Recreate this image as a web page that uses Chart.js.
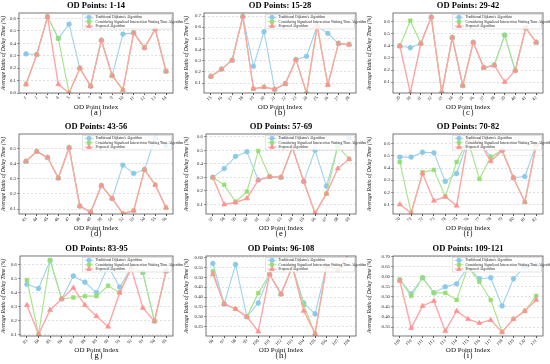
<!DOCTYPE html>
<html>
<head>
<meta charset="utf-8">
<script src="https://cdn.jsdelivr.net/npm/chart.js@4.4.0/dist/chart.umd.min.js"></script>
<style>
  body { margin: 0; background: #fff; }
  #wrap { position: relative; width: 550px; height: 364px; overflow: hidden; }
  .cell { position: absolute; }
</style>
</head>
<body>
<div id="wrap"></div>
<script>
// data, one entry per sub-panel (a) .. (i)
var panelTitles = ['OD Points: 1-14', 'OD Points: 15-28', 'OD Points: 29-42', 'OD Points: 43-56', 'OD Points: 57-69',
  'OD Points: 70-82', 'OD Points: 83-95', 'OD Points: 96-108', 'OD Points: 109-121'];
var captions = ['（a）', '（b）', '（c）', '（d）', '（e）', '（f）', '（g）', '（h）', '（i）'];
var firstIndex = [1, 15, 29, 43, 57, 70, 83, 96, 109];
var seriesNames = ["Traditional Dijkstra's Algorithm", 'Considering Signalized Intersection Waiting Time Algorithm', 'Proposed Algorithm'];

var traditional = [
  [0.315, 0.31, 0.615, 0.44, 0.555, 0.2, 0.055, 0.425, 0.14, 0.475, 0.485, 0.365, 0.515, 0.175],
  [0.16, 0.225, 0.305, 0.695, 0.25, 0.56, 0.045, 0.095, 0.31, 0.34, 0.61, 0.545, 0.455, 0.445],
  [0.40, 0.385, 0.42, 0.64, 0.01, 0.47, 0.07, 0.43, 0.22, 0.24, 0.49, 0.195, 0.55, 0.43],
  [0.415, 0.48, 0.44, 0.305, 0.505, 0.12, 0.08, 0.255, 0.17, 0.39, 0.335, 0.36, 0.57, 0.52],
  [0.30, 0.365, 0.455, 0.49, 0.28, 0.305, 0.30, 0.52, 0.27, 0.50, 0.235, 0.53, 0.59],
  [0.49, 0.49, 0.53, 0.525, 0.29, 0.355, 0.63, 0.62, 0.49, 0.545, 0.32, 0.33, 0.59],
  [0.46, 0.43, 0.63, 0.355, 0.52, 0.475, 0.40, 0.59, 0.44, 0.58, 0.545, 0.195, 0.555],
  [0.57, 0.365, 0.565, 0.30, 0.37, 0.515, 0.415, 0.555, 0.37, 0.315, 0.555, 0.54, 0.62],
  [0.585, 0.515, 0.595, 0.52, 0.55, 0.565, 0.65, 0.59, 0.595, 0.455, 0.59, 0.65, 0.66]
];
var signalized = [
  [0.07, 0.31, 0.615, 0.44, 0.0, 0.2, 0.055, 0.425, 0.14, 0.025, 0.485, 0.365, 0.515, 0.175],
  [0.16, 0.225, 0.305, 0.695, 0.05, 0.065, 0.045, 0.095, 0.31, 0.01, 0.61, 0.085, 0.455, 0.445],
  [0.40, 0.61, 0.42, 0.64, 0.01, 0.47, 0.07, 0.43, 0.22, 0.24, 0.49, 0.195, 0.55, 0.43],
  [0.415, 0.48, 0.44, 0.305, 0.505, 0.12, 0.08, 0.255, 0.17, 0.07, 0.09, 0.36, 0.26, 0.11],
  [0.30, 0.245, 0.12, 0.195, 0.495, 0.305, 0.30, 0.52, 0.27, 0.035, 0.18, 0.53, 0.435],
  [0.45, 0.03, 0.365, 0.385, 0.165, 0.45, 0.63, 0.31, 0.49, 0.545, 0.32, 0.12, 0.59],
  [0.49, 0.10, 0.635, 0.355, 0.365, 0.375, 0.375, 0.45, 0.40, 0.58, 0.545, 0.195, 0.555],
  [0.53, 0.365, 0.34, 0.30, 0.42, 0.515, 0.415, 0.555, 0.36, 0.215, 0.555, 0.54, 0.62],
  [0.585, 0.505, 0.595, 0.52, 0.52, 0.485, 0.65, 0.575, 0.485, 0.325, 0.39, 0.43, 0.505]
];
var proposed = [
  [0.07, 0.31, 0.615, 0.07, 0.0, 0.2, 0.055, 0.425, 0.14, 0.025, 0.485, 0.365, 0.515, 0.175],
  [0.16, 0.225, 0.305, 0.695, 0.05, 0.065, 0.045, 0.095, 0.31, 0.01, 0.61, 0.085, 0.455, 0.445],
  [0.40, 0.01, 0.42, 0.64, 0.01, 0.47, 0.07, 0.43, 0.22, 0.24, 0.10, 0.195, 0.55, 0.43],
  [0.415, 0.48, 0.44, 0.305, 0.505, 0.12, 0.08, 0.255, 0.17, 0.07, 0.09, 0.36, 0.26, 0.11],
  [0.30, 0.10, 0.115, 0.145, 0.28, 0.305, 0.30, 0.52, 0.27, 0.035, 0.18, 0.365, 0.435],
  [0.10, 0.03, 0.355, 0.13, 0.165, 0.09, 0.63, 0.62, 0.455, 0.545, 0.32, 0.12, 0.59],
  [0.31, 0.10, 0.275, 0.355, 0.435, 0.31, 0.23, 0.155, 0.40, 0.575, 0.29, 0.195, 0.555],
  [0.515, 0.365, 0.34, 0.30, 0.225, 0.515, 0.415, 0.555, 0.33, 0.215, 0.555, 0.54, 0.62],
  [0.58, 0.345, 0.455, 0.48, 0.33, 0.43, 0.39, 0.37, 0.385, 0.325, 0.39, 0.43, 0.485]
];
var yMins = [0, 0.012, 0.009, 0.068, 0.03, 0.022, 0.088, 0.203, 0.306];
var yMaxs = [0.645, 0.727, 0.674, 0.595, 0.62, 0.68, 0.664, 0.608, 0.703];
var yTicks = [
  [0.0, 0.1, 0.2, 0.3, 0.4, 0.5, 0.6],
  [0.1, 0.2, 0.3, 0.4, 0.5, 0.6, 0.7],
  [0.1, 0.2, 0.3, 0.4, 0.5, 0.6],
  [0.1, 0.2, 0.3, 0.4, 0.5],
  [0.1, 0.2, 0.3, 0.4, 0.5, 0.6],
  [0.1, 0.2, 0.3, 0.4, 0.5, 0.6],
  [0.1, 0.2, 0.3, 0.4, 0.5, 0.6],
  [0.25, 0.30, 0.35, 0.40, 0.45, 0.50, 0.55, 0.60],
  [0.35, 0.40, 0.45, 0.50, 0.55, 0.60, 0.65, 0.70]
];
var yDecimals = [1, 1, 1, 1, 1, 1, 1, 2, 2];

// look
var lineColors = ['rgb(158,210,236)', 'rgb(170,228,140)', 'rgb(255,165,165)'];
var fillColors = ['rgb(140,200,232)', 'rgb(150,222,115)', 'rgb(255,145,145)'];
var lineWidths = [1.1, 1.2, 1.4];
var styles = ['circle', 'rect', 'triangle'];
var radii = [2.4, 2.6, 2.9];
var serif = "'Liberation Serif', 'Times New Roman', serif";

// panel placement: canvas box and plot box inside it
var cellX = [0, 183, 366], cellY = [0, 121, 243];
var cellW = [183, 183, 184], cellH = [121, 122, 121];
var plotLeft = [19, 21, 27, 19, 23, 27, 20, 23, 27];
var plotRight = [173, 173, 177];

var panelDecor = {
  id: 'panelDecor',
  afterDatasetsDraw: function(chart, args, opts) {
    var ctx = chart.ctx, a = chart.chartArea;
    // legend box inside the plot, top right
    var w = 89, h = 14.5, x0 = a.right - w - 1.5, y0 = a.top + 1.5;
    ctx.save();
    ctx.fillStyle = 'rgba(255,255,255,0.82)';
    ctx.strokeStyle = '#cfcfcf';
    ctx.lineWidth = 0.6;
    ctx.fillRect(x0, y0, w, h);
    ctx.strokeRect(x0, y0, w, h);
    ctx.font = '3.6px ' + serif;
    ctx.textBaseline = 'middle';
    for (var k = 0; k < 3; k++) {
      var yy = y0 + 2.8 + k * 4.4;
      ctx.strokeStyle = lineColors[k];
      ctx.lineWidth = 0.9;
      ctx.beginPath();
      ctx.moveTo(x0 + 2, yy);
      ctx.lineTo(x0 + 11, yy);
      ctx.stroke();
      ctx.fillStyle = fillColors[k];
      ctx.strokeStyle = fillColors[k];
      Chart.helpers.drawPoint(ctx, { pointStyle: styles[k], radius: radii[k] * 0.9, rotation: 0, borderWidth: 0.6 }, x0 + 6.5, yy);
      ctx.fillStyle = '#222';
      ctx.fillText(seriesNames[k], x0 + 13, yy + 0.2);
    }
    // frame
    ctx.strokeStyle = '#555';
    ctx.lineWidth = 0.8;
    ctx.strokeRect(a.left, a.top, a.right - a.left, a.bottom - a.top);
    ctx.restore();
  },
  afterDraw: function(chart, args, opts) {
    var ctx = chart.ctx, a = chart.chartArea;
    var cx = (a.left + a.right) / 2;
    ctx.save();
    ctx.fillStyle = '#000';
    ctx.textAlign = 'center';
    ctx.textBaseline = 'middle';
    ctx.font = 'bold 8.5px ' + serif;
    ctx.fillText(opts.title, cx, 6);
    ctx.font = '8.5px ' + serif;
    ctx.fillText(opts.caption, cx, a.bottom + 20);
    ctx.restore();
  }
};

function makePanel(p) {
  var row = Math.floor(p / 3), col = p % 3;
  var W = cellW[col], H = cellH[row];
  var box = document.createElement('div');
  box.className = 'cell';
  box.style.left = cellX[col] + 'px';
  box.style.top = cellY[row] + 'px';
  box.style.width = W + 'px';
  box.style.height = H + 'px';
  var cv = document.createElement('canvas');
  box.appendChild(cv);
  document.getElementById('wrap').appendChild(box);

  var n = traditional[p].length;
  var idx = [];
  for (var i = 0; i < n; i++) idx.push(firstIndex[p] + i);
  var series = [traditional[p], signalized[p], proposed[p]];
  var datasets = series.map(function(vals, k) {
    return {
      label: seriesNames[k],
      data: idx.map(function(x, i) { return { x: x, y: vals[i] }; }),
      borderColor: lineColors[k],
      backgroundColor: fillColors[k],
      pointBorderColor: fillColors[k],
      borderWidth: lineWidths[k],
      pointStyle: styles[k],
      pointRadius: radii[k],
      pointBorderWidth: 0.6,
      order: 3 - k,
      tension: 0
    };
  });
  var span = idx[n - 1] - idx[0];
  var plotH = 80;
  new Chart(cv, {
    type: 'line',
    data: { datasets: datasets },
    options: {
      responsive: true,
      maintainAspectRatio: false,
      animation: false,
      events: [],
      layout: { padding: { left: 0, right: W - plotRight[col], top: 13, bottom: H - 13 - plotH - 18 } },
      plugins: {
        legend: { display: false },
        tooltip: { enabled: false },
        panelDecor: { title: panelTitles[p], caption: captions[p] }
      },
      scales: {
        x: {
          type: 'linear',
          min: idx[0] - span * 0.05,
          max: idx[n - 1] + span * 0.05,
          afterBuildTicks: function(s) { s.ticks = idx.map(function(v) { return { value: v }; }); },
          afterFit: function(s) { s.height = 18; },
          grid: { display: true, drawOnChartArea: false, tickLength: 2, color: '#555' },
          border: { display: false },
          ticks: {
            minRotation: 45, maxRotation: 45, padding: 0, autoSkip: false,
            color: '#222', font: { family: serif, size: 4.6 },
            callback: function(v) { return String(v); }
          },
          title: { display: true, text: 'OD Point Index', color: '#111', font: { family: serif, size: 7 }, padding: { top: 0, bottom: 0 } }
        },
        y: {
          min: yMins[p],
          max: yMaxs[p],
          afterBuildTicks: function(s) { s.ticks = yTicks[p].map(function(v) { return { value: v }; }); },
          afterFit: function(s) { s.width = plotLeft[p]; },
          grid: { color: '#cccccc', lineWidth: 0.6, tickLength: 2, tickColor: '#555', tickBorderDash: [] },
          border: { display: false, dash: [2, 2] },
          ticks: {
            padding: 1, color: '#222', font: { family: serif, size: 4.8 },
            callback: function(v) { return Number(v).toFixed(yDecimals[p]); }
          },
          title: { display: true, text: 'Average Ratio of Delay Time (%)', color: '#111', font: { family: serif, size: 5.6, style: 'italic' }, padding: { top: 0, bottom: 0 } }
        }
      }
    },
    plugins: [panelDecor]
  });
}

for (var p = 0; p < 9; p++) makePanel(p);
</script>
</body>
</html>
